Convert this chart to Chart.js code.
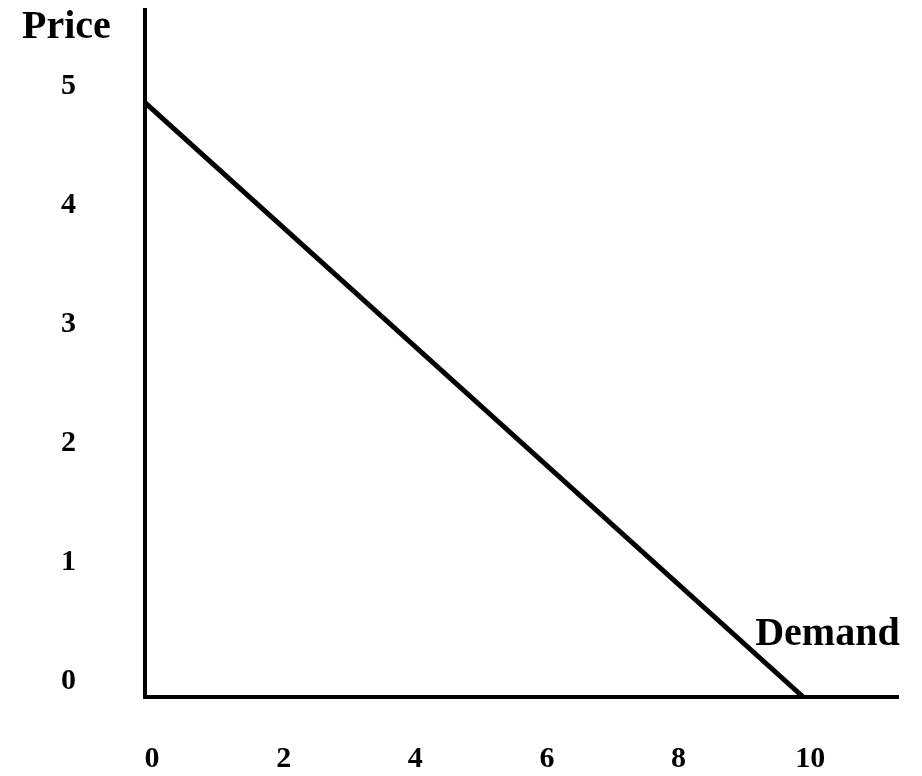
<!DOCTYPE html>
<html>
<head>
<meta charset="utf-8">
<title>Demand</title>
<script src="https://cdn.jsdelivr.net/npm/chart.js@4.4.1/dist/chart.umd.min.js"></script>
<style>
  html, body { margin: 0; padding: 0; background: #fff; }
  #wrap { width: 922px; height: 776px; }
</style>
</head>
<body>
<div id="wrap"><canvas id="chart" width="922" height="776"></canvas></div>
<script>
// demand curve: quantity on x, price on y
const quantity = [0, 10];
const price = [5, 0];
const xTicks = [0, 2, 4, 6, 8, 10];
const yTicks = [0, 1, 2, 3, 4, 5];
const yTitle = 'Price';
const seriesLabel = 'Demand';

const serif = 'Liberation Serif, Times New Roman, serif';

// draws the "Price" caption and the "Demand" tag next to the curve
const captions = {
  id: 'captions',
  afterDraw(chart) {
    const { ctx, scales } = chart;
    ctx.save();
    ctx.fillStyle = '#000';
    ctx.font = 'bold 40px ' + serif;
    ctx.textBaseline = 'alphabetic';
    ctx.textAlign = 'left';
    ctx.fillText(yTitle, 22, 38);
    const endX = scales.x.getPixelForValue(quantity[quantity.length - 1]);
    const endY = scales.y.getPixelForValue(price[price.length - 1]);
    ctx.fillText(seriesLabel, endX - 48, endY - 52);
    ctx.restore();
  }
};

new Chart(document.getElementById('chart'), {
  type: 'line',
  data: {
    datasets: [{
      label: seriesLabel,
      data: quantity.map((q, i) => ({ x: q, y: price[i] })),
      borderColor: '#000',
      borderWidth: 5,
      pointRadius: 0,
      fill: false,
      tension: 0
    }]
  },
  options: {
    responsive: false,
    animation: false,
    layout: { padding: { left: 0, top: 10, right: 24, bottom: 0 } },
    scales: {
      x: {
        type: 'linear',
        min: 0,
        max: 11.44,
        afterFit: (s) => {
          s.height = 79;
          s.paddingLeft = 0;
          s.paddingRight = 0;
        },
        afterBuildTicks: (s) => { s.ticks = xTicks.map((v) => ({ value: v })); },
        grid: { display: false, drawTicks: false },
        border: { display: true, color: '#000', width: 4 },
        ticks: {
          color: '#000',
          padding: 44,
          labelOffset: 7,
          font: { family: serif, size: 30, weight: 'bold' }
        }
      },
      y: {
        type: 'linear',
        min: 0,
        max: 5.78,
        afterFit: (s) => {
          s.width = 145;
          s.paddingTop = 0;
          s.paddingBottom = 0;
        },
        afterBuildTicks: (s) => { s.ticks = yTicks.map((v) => ({ value: v })); },
        grid: { display: false, drawTicks: false },
        border: { display: true, color: '#000', width: 4 },
        ticks: {
          color: '#000',
          padding: 69,
          labelOffset: -16,
          font: { family: serif, size: 30, weight: 'bold' }
        }
      }
    },
    plugins: {
      legend: { display: false },
      tooltip: { enabled: false },
      title: { display: false }
    }
  },
  plugins: [captions]
});
</script>
</body>
</html>
